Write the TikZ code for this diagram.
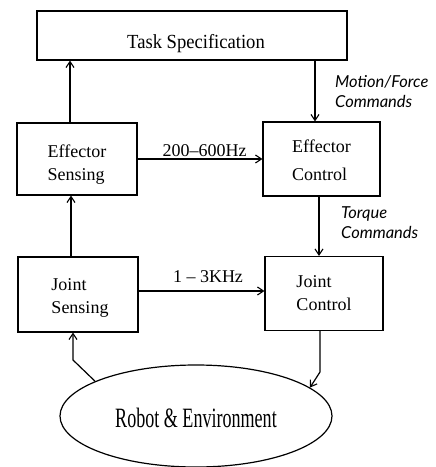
\documentclass[tikz,border=0pt]{standalone}
\usepackage{fontspec}
\setmainfont{Liberation Serif}
\newfontfamily\cmdfont{Lato}
\usetikzlibrary{arrows.meta,shapes.geometric}

\begin{document}
\begin{tikzpicture}[x=1pt,y=-1pt,
  box/.style={draw, line width=1.2pt, rectangle, inner sep=0pt,
    font=\fontsize{18}{23}\selectfont, align=left, text depth=0pt},
  link/.style={line width=1.2pt,
    -{Straight Barb[length=6pt,width=8pt,line width=1.1pt]}},
  cmd/.style={font=\cmdfont\itshape\fontsize{16.5}{20}\selectfont,
    align=left, inner sep=0pt},
  rate/.style={font=\fontsize{18}{18}\selectfont, inner sep=0pt, anchor=base},
]
\useasboundingbox (0,0) rectangle (436,467);

% blocks (text height sets where the last baseline sits in each box)
\node[box, minimum width=310pt, minimum height=49pt, text height=25pt] (task) at (192,35.5)
  {\hspace*{8pt}\scalebox{0.93}[1]{\fontsize{20}{20}\selectfont Task Specification}};
\node[box, minimum width=120pt, minimum height=72pt, text height=42pt] (es) at (77,159)
  {Effector\\Sensing};
\node[box, minimum width=117pt, minimum height=74pt, text height=42pt,
  font=\fontsize{18}{28}\selectfont] (ec) at (321.5,159)
  {Effector\\Control};
\node[box, minimum width=120pt, minimum height=75pt, text height=37pt] (js) at (78,294.5)
  {\hspace*{4pt}Joint\\\hspace*{4pt}Sensing};
\node[box, minimum width=118pt, minimum height=74pt, text height=33pt] (jc) at (324,293.5)
  {Joint\\Control};
\node[draw, line width=1.2pt, ellipse, inner sep=0pt, text height=23pt, text depth=0pt,
  minimum width=272pt, minimum height=102pt] (env) at (196,416)
  {\scalebox{0.645}[1]{\fontsize{28}{28}\selectfont Robot \& Environment}};

% guide positions for the vertical and horizontal links
\coordinate (xup) at (70,0);
\coordinate (xdown) at (315,0);
\coordinate (xtorque) at (319,0);
\coordinate (xjs) at (71,0);
\coordinate (yeff) at (0,159);
\coordinate (yjoint) at (0,291);
\coordinate (bendL) at (73,360);
\coordinate (bendR) at (320,372);

% links
\draw[link] (es.north -| xup) -- (task.south -| xup);
\draw[link] (task.south -| xdown) -- (ec.north -| xdown);
\draw[link] (es.east |- yeff) -- (ec.west |- yeff);
\draw[link] (ec.south -| xtorque) -- (jc.north -| xtorque);
\draw[link] (js.north -| xjs) -- (es.south -| xjs);
\draw[link] (js.east |- yjoint) -- (jc.west |- yjoint);
\draw[link] (env.161) -- (bendL) -- (js.south -| bendL);
\draw[link] (jc.south -| bendR) -- (bendR) -- (env.14);

% link labels
\node[cmd, anchor=base west] (mf) at (335,107) {Motion/Force\\Commands};
\node[cmd, anchor=base west] (tq) at (341,238) {Torque\\Commands};
\node[rate] (r1) at (204.5,156) {200--600Hz};
\node[rate] (r2) at (208,282) {1 -- 3KHz};
\end{tikzpicture}
\end{document}
